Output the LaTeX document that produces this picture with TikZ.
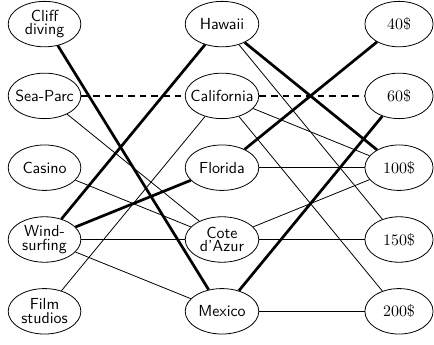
\documentclass[tikz,border=0pt]{standalone}
\usepackage{tikz}
\usetikzlibrary{shapes.geometric}

\begin{document}
\begin{tikzpicture}[
  activity/.style={draw, ellipse, line width=0.5pt, align=center, inner xsep=-4pt, inner ysep=0pt,
              minimum width=1.6cm, minimum height=1cm, font=\sffamily\fontsize{10}{8.6}\selectfont},
  place/.style={activity, minimum width=1.62cm},
  price/.style={draw, ellipse, line width=0.5pt, inner sep=0pt,
              minimum width=1.5cm, minimum height=1cm, font=\rmfamily},
  link/.style={line width=0.5pt},
  choice/.style={line width=1.7pt},
]
  \useasboundingbox (-0.98,0.53) rectangle (8.57,-7.06);

  % Activities
  \node[activity] (cliff) at (0,0) {Cliff\\diving};
  \node[activity] (seaparc) at (0,-1.58) {Sea-Parc};
  \node[activity] (casino) at (0,-3.16) {Casino};
  \node[activity] (wind) at (0,-4.74) {Wind-\\surfing};
  \node[activity] (film) at (0,-6.32) {Film\\studios};

  % Destinations
  \node[place] (hawaii) at (3.905,0) {Hawaii};
  \node[place] (calif) at (3.905,-1.58) {California};
  \node[place] (florida) at (3.905,-3.16) {Florida};
  \node[place] (cote) at (3.905,-4.74) {Cote\\d'Azur};
  \node[place] (mexico) at (3.905,-6.32) {Mexico};

  % Prices
  \node[price] (p40) at (7.8,0) {40\$};
  \node[price] (p60) at (7.8,-1.58) {60\$};
  \node[price] (p100) at (7.8,-3.16) {100\$};
  \node[price] (p150) at (7.8,-4.74) {150\$};
  \node[price] (p200) at (7.8,-6.32) {200\$};

  % Activities to destinations
  \draw[link] (seaparc) -- (cote);
  \draw[link] (casino) -- (cote);
  \draw[link] (film) -- (calif);
  \draw[link] (wind) -- (cote);
  \draw[link] (wind) -- (mexico);
  \draw[choice] (cliff) -- (mexico);
  \draw[choice] (wind) -- (hawaii);
  \draw[choice] (wind) -- (florida);

  % Destinations to prices
  \draw[link] (hawaii) -- (p150);
  \draw[link] (calif) -- (p100);
  \draw[link] (calif) -- (p200);
  \draw[link] (florida) -- (p100);
  \draw[link] (cote) -- (p100);
  \draw[link] (cote) -- (p150);
  \draw[link] (mexico) -- (p200);
  \draw[choice] (hawaii) -- (p100);
  \draw[choice] (florida) -- (p40);
  \draw[choice] (mexico) -- (p60);

  % Dashed path
  \draw[choice, dash pattern=on 4.3pt off 3pt] (seaparc) -- (calif) -- (p60);
\end{tikzpicture}
\end{document}
